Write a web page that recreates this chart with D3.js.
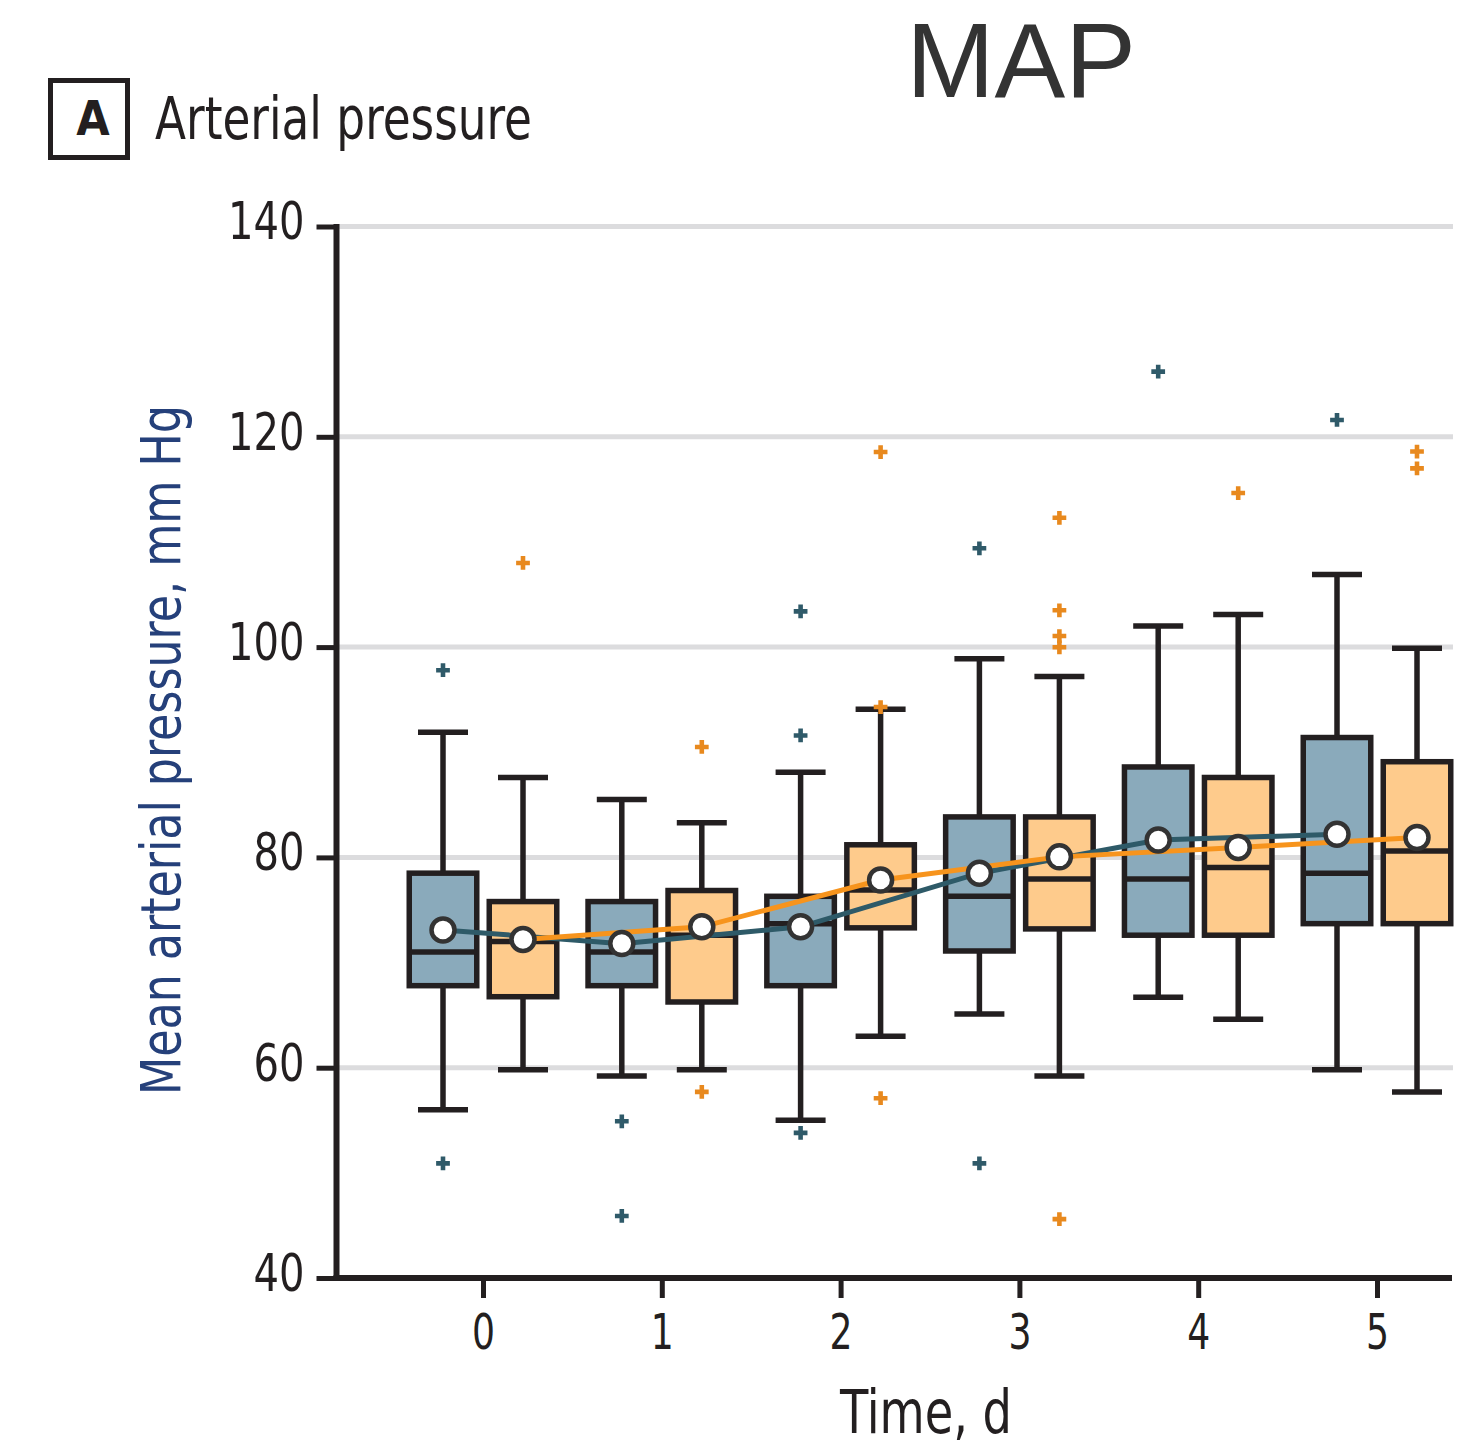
<!DOCTYPE html>
<html>
<head>
<meta charset="utf-8">
<title>MAP</title>
<script src="https://cdn.jsdelivr.net/npm/d3@7"></script>
<style>
  html, body { margin: 0; padding: 0; background: #ffffff; }
  svg { display: block; }
</style>
</head>
<body>
<svg id="chart" width="1465" height="1451"></svg>
<script>
// ---- data: mean arterial pressure by day, two groups ----
const days = [0, 1, 2, 3, 4, 5];
const yTickValues = [40, 60, 80, 100, 120, 140];

// group 1 (blue)
const g1Low    = [56.0, 59.2, 55.0, 65.1, 66.7, 59.8];
const g1Q1     = [67.8, 67.8, 67.8, 71.1, 72.6, 73.7];
const g1Median = [71.0, 71.0, 73.7, 76.3, 77.95, 78.5];
const g1Q3     = [78.5, 75.8, 76.3, 83.85, 88.6, 91.4];
const g1High   = [91.9, 85.5, 88.1, 98.9, 102.0, 106.9];
const g1Mean   = [73.1, 71.8, 73.4, 78.5, 81.65, 82.2];
const g1Outliers = [[97.8, 50.9], [54.9, 45.9], [103.4, 91.6, 53.8], [109.4, 50.9], [126.2], [121.6]];

// group 2 (orange)
const g2Low    = [59.8, 59.8, 63.0, 59.2, 64.6, 57.7];
const g2Q1     = [66.75, 66.25, 73.3, 73.2, 72.6, 73.7];
const g2Median = [72.0, 72.6, 76.9, 77.95, 79.05, 80.6];
const g2Q3     = [75.8, 76.85, 81.2, 83.85, 87.6, 89.1];
const g2High   = [87.6, 83.3, 94.1, 97.2, 103.1, 99.9];
const g2Mean   = [72.2, 73.4, 77.85, 80.05, 80.95, 81.9];
const g2Outliers = [[108.0], [90.5, 57.7], [118.55, 94.3, 57.1], [112.3, 103.5, 101.05, 99.98, 45.6], [114.65], [118.6, 117.0]];

// ---- layout & style ----
const INK = "#231f20";
const NARROW = "'Liberation Sans Narrow', 'DejaVu Sans Condensed', 'Liberation Sans', sans-serif";
const plotLeft = 336.5, plotRight = 1453;
const boxW = 67.5, capW = 50, lineW = 5.5, groupOffset = 40;

const series = [
  { low: g1Low, q1: g1Q1, med: g1Median, q3: g1Q3, high: g1High, mean: g1Mean, out: g1Outliers,
    dx: -groupOffset, fill: "#8aaabb", dot: "#2f5a69", line: "#2e5a68" },
  { low: g2Low, q1: g2Q1, med: g2Median, q3: g2Q3, high: g2High, mean: g2Mean, out: g2Outliers,
    dx: groupOffset, fill: "#fecb8c", dot: "#e8891e", line: "#f7941d" }
];

const svg = d3.select("#chart");

const y = d3.scaleLinear().domain([40, 140]).range([1278, 226.5]);
const x = d3.scalePoint().domain(days).range([483, 1377]);

// ---- gridlines ----
svg.append("g").selectAll("line")
  .data(yTickValues.filter(v => v > 40))
  .join("line")
  .attr("x1", plotLeft).attr("x2", plotRight)
  .attr("y1", d => y(d)).attr("y2", d => y(d))
  .attr("stroke", "#dcdcde").attr("stroke-width", 5);

// ---- boxes ----
series.forEach(s => {
  const g = svg.append("g");
  days.forEach((day, i) => {
    const cx = x(day) + s.dx;
    // whiskers
    g.append("line").attr("x1", cx).attr("x2", cx)
      .attr("y1", y(s.low[i])).attr("y2", y(s.q1[i]))
      .attr("stroke", INK).attr("stroke-width", lineW);
    g.append("line").attr("x1", cx).attr("x2", cx)
      .attr("y1", y(s.high[i])).attr("y2", y(s.q3[i]))
      .attr("stroke", INK).attr("stroke-width", lineW);
    [s.low[i], s.high[i]].forEach(v => {
      g.append("line").attr("x1", cx - capW / 2).attr("x2", cx + capW / 2)
        .attr("y1", y(v)).attr("y2", y(v))
        .attr("stroke", INK).attr("stroke-width", lineW);
    });
    // box
    g.append("rect")
      .attr("x", cx - boxW / 2).attr("width", boxW)
      .attr("y", y(s.q3[i])).attr("height", y(s.q1[i]) - y(s.q3[i]))
      .attr("fill", s.fill).attr("stroke", INK).attr("stroke-width", lineW);
    // median
    g.append("line").attr("x1", cx - boxW / 2).attr("x2", cx + boxW / 2)
      .attr("y1", y(s.med[i])).attr("y2", y(s.med[i]))
      .attr("stroke", INK).attr("stroke-width", lineW);
  });
});

// ---- outliers ----
const cross = d3.symbol().type(d3.symbolCross).size(105);
series.forEach(s => {
  const pts = [];
  days.forEach((day, i) => s.out[i].forEach(v => pts.push({ day, v })));
  svg.append("g").selectAll("path")
    .data(pts)
    .join("path")
    .attr("d", cross)
    .attr("transform", d => `translate(${x(d.day) + s.dx},${y(d.v)})`)
    .attr("fill", s.dot);
});

// ---- mean trend lines ----
series.forEach(s => {
  const line = d3.line()
    .x((d, i) => x(days[i]) + s.dx)
    .y(d => y(d));
  svg.append("path")
    .datum(s.mean)
    .attr("d", line)
    .attr("fill", "none")
    .attr("stroke", s.line)
    .attr("stroke-width", 5);
});

// ---- mean markers ----
series.forEach(s => {
  svg.append("g").selectAll("circle")
    .data(s.mean)
    .join("circle")
    .attr("cx", (d, i) => x(days[i]) + s.dx)
    .attr("cy", d => y(d))
    .attr("r", 11.5)
    .attr("fill", "#ffffff")
    .attr("stroke", "#333333")
    .attr("stroke-width", 4.5);
});

// ---- axes ----
const yAxis = svg.append("g")
  .attr("transform", `translate(${plotLeft},0)`)
  .call(d3.axisLeft(y).tickValues(yTickValues).tickSize(20).tickSizeOuter(0).tickPadding(12));
yAxis.select(".domain").remove();
yAxis.selectAll(".tick line").attr("stroke", INK).attr("stroke-width", 5);
yAxis.selectAll(".tick text")
  .attr("font-family", NARROW).attr("font-size", 52).attr("fill", INK)
  .attr("dy", "0.24em")
  .attr("textLength", d => String(d).length * 25.5)
  .attr("lengthAdjust", "spacingAndGlyphs");

const xAxis = svg.append("g")
  .attr("transform", `translate(0,${y(40)})`)
  .call(d3.axisBottom(x).tickSize(20).tickSizeOuter(0).tickPadding(15));
xAxis.select(".domain").remove();
xAxis.selectAll(".tick line").attr("stroke", INK).attr("stroke-width", 5);
xAxis.selectAll(".tick text")
  .attr("font-family", NARROW).attr("font-size", 50).attr("fill", INK)
  .attr("textLength", 23).attr("lengthAdjust", "spacingAndGlyphs");

// axis lines
svg.append("line")
  .attr("x1", plotLeft).attr("x2", plotLeft)
  .attr("y1", y(140) - 2.5).attr("y2", y(40) + 3)
  .attr("stroke", INK).attr("stroke-width", 6);
svg.append("line")
  .attr("x1", plotLeft - 3).attr("x2", plotRight - 1)
  .attr("y1", y(40)).attr("y2", y(40))
  .attr("stroke", INK).attr("stroke-width", 6);

// ---- titles ----
svg.append("text")
  .attr("x", 1021).attr("y", 97)
  .attr("text-anchor", "middle")
  .attr("font-family", "'Liberation Sans', Arial, sans-serif")
  .attr("font-size", 106).attr("fill", "#333333")
  .text("MAP");

svg.append("rect")
  .attr("x", 50.5).attr("y", 80.5).attr("width", 77).attr("height", 77)
  .attr("fill", "none").attr("stroke", INK).attr("stroke-width", 5);
svg.append("text")
  .attr("x", 93).attr("y", 135)
  .attr("text-anchor", "middle")
  .attr("font-family", NARROW).attr("font-weight", "bold")
  .attr("font-size", 48).attr("fill", INK)
  .text("A");
svg.append("text")
  .attr("x", 155).attr("y", 139)
  .attr("font-family", NARROW).attr("font-size", 58).attr("fill", INK)
  .attr("textLength", 377).attr("lengthAdjust", "spacingAndGlyphs")
  .text("Arterial pressure");

svg.append("text")
  .attr("transform", "translate(180,750) rotate(-90)")
  .attr("text-anchor", "middle")
  .attr("font-family", NARROW).attr("font-size", 56).attr("fill", "#25407a")
  .attr("textLength", 690).attr("lengthAdjust", "spacingAndGlyphs")
  .text("Mean arterial pressure, mm Hg");

svg.append("text")
  .attr("x", 926).attr("y", 1433)
  .attr("text-anchor", "middle")
  .attr("font-family", NARROW).attr("font-size", 60).attr("fill", INK)
  .attr("textLength", 172).attr("lengthAdjust", "spacingAndGlyphs")
  .text("Time, d");
</script>
</body>
</html>
